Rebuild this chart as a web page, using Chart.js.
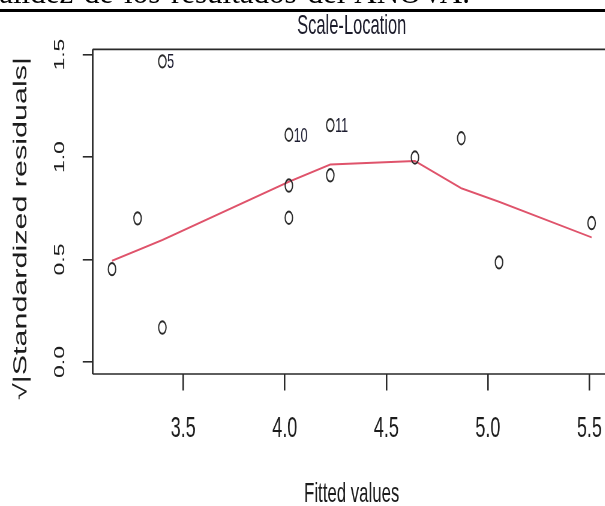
<!DOCTYPE html>
<html>
<head>
<meta charset="utf-8">
<script src="https://cdn.jsdelivr.net/npm/chart.js@4/dist/chart.umd.min.js"></script>
<style>
html, body { margin:0; padding:0; width:605px; height:506px; overflow:hidden; background:#fff; }
#wrap { position:absolute; left:0; top:0; width:1030px; height:506px; transform:scaleX(0.6); transform-origin:0 0; }
#doc { position:absolute; right:135px; top:-23px; white-space:nowrap; word-spacing:3px; font:31px/31px "Liberation Serif", serif; color:#000; }
#rule { position:absolute; left:0; top:9px; width:605px; height:3px; background:#000; }
</style>
</head>
<body>
<div id="wrap"><canvas id="c"></canvas></div>
<div id="doc">validez de los resultados del ANOVA.</div>
<div id="rule"></div>
<script>
// values
var fitted     = [3.149, 3.275, 3.397, 3.397, 4.020, 4.020, 4.020, 4.224, 4.224, 4.641, 4.869, 5.055, 5.511];
var sqrtStdRes = [0.453, 0.701, 1.467, 0.168, 1.109, 0.861, 0.704, 1.156, 0.911, 0.998, 1.092, 0.486, 0.678];
var pointIds   = ['', '', '5', '', '10', '', '', '11', '', '', '', '', ''];

var smoothX = [3.149, 3.275, 3.397, 4.020, 4.224, 4.641, 4.869, 5.055, 5.511];
var smoothY = [0.494, 0.545, 0.595, 0.880, 0.964, 0.981, 0.848, 0.782, 0.608];

var xTicks = [3.5, 4.0, 4.5, 5.0, 5.5];
var yTicks = [0.0, 0.5, 1.0, 1.5];
var xRange = [3.054, 5.605];
var yRange = [-0.0587, 1.526];

var ink = '#2a2a2a';
var sans = '"Liberation Sans", Arial, sans-serif';

function pairs(xs, ys)
{
    var out = [];
    for (var i = 0; i < xs.length; i++) out.push({x: xs[i], y: ys[i]});
    return out;
}

// R style box round the plot region
var boxPlugin = {
    id: 'box',
    afterDatasetsDraw: function(chart) {
        var a = chart.chartArea, ctx = chart.ctx;
        ctx.save();
        ctx.strokeStyle = ink;
        ctx.lineWidth = 1.7;
        ctx.beginPath();
        ctx.moveTo(a.left, a.top); ctx.lineTo(a.right, a.top);
        ctx.moveTo(a.left, a.bottom); ctx.lineTo(a.right, a.bottom);
        ctx.stroke();
        ctx.lineWidth = 2.8;
        ctx.beginPath();
        ctx.moveTo(a.left, a.top); ctx.lineTo(a.left, a.bottom);
        ctx.moveTo(a.right, a.top); ctx.lineTo(a.right, a.bottom);
        ctx.stroke();
        ctx.restore();
    }
};

// observation numbers next to the largest points
var idPlugin = {
    id: 'ids',
    afterDatasetsDraw: function(chart) {
        var meta = chart.getDatasetMeta(0), ctx = chart.ctx;
        ctx.save();
        ctx.font = '21px ' + sans;
        ctx.fillStyle = '#1c1c30';
        ctx.textAlign = 'left';
        ctx.textBaseline = 'middle';
        for (var i = 0; i < pointIds.length; i++) {
            if (!pointIds[i]) continue;
            var p = meta.data[i];
            ctx.fillText(pointIds[i], p.x + 8, p.y + 1);
        }
        ctx.restore();
    }
};

new Chart(document.getElementById('c'), {
    type: 'scatter',
    data: {
        datasets: [
            {
                data: pairs(fitted, sqrtStdRes),
                pointStyle: 'circle',
                pointRadius: 6.2,
                pointBorderWidth: 2,
                pointBorderColor: ink,
                pointBackgroundColor: 'rgba(0,0,0,0)'
            },
            {
                type: 'line',
                data: pairs(smoothX, smoothY),
                showLine: true,
                borderColor: '#DF536B',
                borderWidth: 2,
                pointRadius: 0,
                tension: 0,
                fill: false
            }
        ]
    },
    options: {
        responsive: true,
        maintainAspectRatio: false,
        animation: false,
        events: [],
        layout: { padding: { left: 0, right: 12.2, top: 0, bottom: 0 } },
        plugins: {
            legend: { display: false },
            tooltip: { enabled: false },
            title: {
                display: true,
                fullSize: false,
                text: 'Scale-Location',
                color: '#1b1b2a',
                font: { family: sans, size: 27.5, weight: 'normal', lineHeight: 1.2 },
                padding: { top: 9.6, bottom: 6.7 }
            }
        },
        scales: {
            x: {
                type: 'linear',
                min: xRange[0],
                max: xRange[1],
                afterBuildTicks: function(s) { s.ticks = xTicks.map(function(v) { return {value: v}; }); },
                afterFit: function(s) { s.height = 132; },
                border: { display: false },
                grid: { drawOnChartArea: false, drawTicks: true, tickLength: 16.5, color: ink, lineWidth: 2.6 },
                ticks: {
                    color: '#1c1c1c',
                    padding: 20,
                    maxRotation: 0,
                    font: { family: sans, size: 30 },
                    callback: function(v) { return v.toFixed(1); }
                },
                title: {
                    display: true,
                    text: 'Fitted values',
                    color: '#1c1c1c',
                    font: { family: sans, size: 28, lineHeight: 0.8 },
                    padding: { top: 0, bottom: 1 }
                }
            },
            y: {
                type: 'linear',
                min: yRange[0],
                max: yRange[1],
                afterBuildTicks: function(s) { s.ticks = yTicks.map(function(v) { return {value: v}; }); },
                afterFit: function(s) { s.width = 154.5; },
                border: { display: false },
                grid: { drawOnChartArea: false, drawTicks: true, tickLength: 16.7, color: ink, lineWidth: 1.6 },
                ticks: {
                    color: '#1c1c1c',
                    padding: 20.8,
                    minRotation: 90,
                    maxRotation: 90,
                    crossAlign: 'center',
                    font: { family: sans, size: 23 },
                    callback: function(v) { return v.toFixed(1); }
                },
                title: {
                    display: true,
                    text: '\u221A|Standardized residuals|\u00A0\u00A0\u00A0\u00A0',
                    color: '#1c1c1c',
                    font: { family: sans, size: 30.5, lineHeight: 1.2 },
                    padding: { top: 17, bottom: 0 }
                }
            }
        }
    },
    plugins: [boxPlugin, idPlugin]
});
</script>
</body>
</html>
